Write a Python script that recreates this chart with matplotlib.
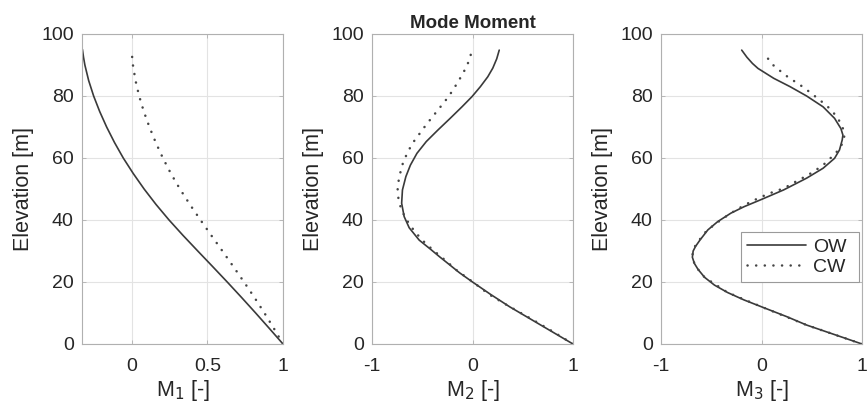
import matplotlib
matplotlib.use("Agg")
import matplotlib.pyplot as plt

plt.rcParams['font.family'] = ['Liberation Sans', 'DejaVu Sans']

# ---- data ----
# Panel 1: M1
ow1_z = [0, 5, 10, 15, 20, 25, 30, 35, 40, 45, 50, 55, 60, 65, 70, 75, 80, 85, 90, 92.5, 95]
ow1_m = [1.0, 0.91, 0.819, 0.726, 0.631, 0.534, 0.436, 0.339, 0.246, 0.160, 0.081, 0.009,
         -0.057, -0.115, -0.167, -0.213, -0.253, -0.286, -0.311, -0.320, -0.327]
cw1_z = [0, 5, 10, 15, 20, 25, 30, 35, 40, 45, 50, 55, 60, 65, 70, 75, 80, 85, 90, 93.5]
cw1_m = [1.0, 0.94, 0.877, 0.811, 0.742, 0.671, 0.599, 0.526, 0.454, 0.384, 0.318, 0.258,
         0.205, 0.158, 0.116, 0.079, 0.048, 0.024, 0.007, 0.0]

# Panel 2: M2
ow2_z = [0, 4, 8, 12, 16, 20, 23, 26, 28.2, 30.5, 33.5, 37.5, 41.1, 45.4, 49.7, 54, 57.7,
         61.5, 65.3, 69, 72.8, 76.5, 79.8, 83, 86.2, 89, 92, 94.8]
ow2_m = [1.0, 0.79, 0.58, 0.37, 0.18, 0.0, -0.13, -0.245, -0.33, -0.415, -0.53, -0.63, -0.68,
         -0.705, -0.697, -0.663, -0.618, -0.553, -0.46, -0.345, -0.222, -0.105, -0.005,
         0.078, 0.152, 0.202, 0.241, 0.266]
cw2_z = [0, 4, 8, 12.6, 16, 20.1, 23.6, 26, 28.2, 30.5, 33.2, 35.9, 38.7, 41.5, 43.8, 46.7,
         49.4, 52, 54.7, 57.4, 60.1, 62.8, 65.5, 68, 70.6, 73.3, 76, 78.7, 81.4, 84.3, 87,
         89.7, 92.2, 94.8]
cw2_m = [1.0, 0.8, 0.59, 0.34, 0.165, 0.0, -0.15, -0.235, -0.315, -0.4, -0.49, -0.565, -0.63,
         -0.68, -0.712, -0.736, -0.746, -0.739, -0.722, -0.703, -0.67, -0.63, -0.58, -0.523,
         -0.464, -0.398, -0.331, -0.265, -0.205, -0.149, -0.1, -0.056, -0.026, -0.006]

# Panel 3: M3
ow3_z = [0, 3, 6.1, 8.8, 12, 14.2, 16.6, 19, 21.5, 24.1, 26, 28, 30, 31.5, 33.5, 36.8, 39.5,
         42.2, 44.3, 46.5, 49.7, 53.5, 56.7, 59.9, 62.6, 65.8, 67.4, 69.5, 72.8, 76.5, 80, 83,
         85.7, 88.9, 90.5, 92.5, 94.8]
ow3_m = [1.0, 0.73, 0.45, 0.253, 0.0, -0.173, -0.337, -0.468, -0.566, -0.632, -0.668,
         -0.688, -0.68, -0.656, -0.613, -0.534, -0.435, -0.305, -0.173, -0.01, 0.22, 0.449,
         0.613, 0.727, 0.776, 0.803, 0.81, 0.79, 0.727, 0.613, 0.449, 0.285, 0.122, -0.035,
         -0.09, -0.145, -0.197]
cw3_z = [0, 6.1, 12, 16.6, 21.5, 24.1, 26, 28, 30, 31.5, 33.5, 36, 38.5, 41, 43.5, 46, 48.5,
         50, 51.3, 52.9, 54.2, 55.9, 57.7, 59.9, 62.6, 65.3, 67.7, 70.3, 73.1, 75.8, 78, 80.1,
         82.2, 84.1, 85.7, 87.8, 90, 92.7]
cw3_m = [1.0, 0.45, 0.0, -0.337, -0.566, -0.632, -0.668, -0.688, -0.683, -0.662, -0.62,
         -0.56, -0.47, -0.36, -0.24, -0.1, 0.07, 0.203, 0.285, 0.367, 0.449, 0.531, 0.613,
         0.685, 0.767, 0.816, 0.826, 0.803, 0.754, 0.685, 0.606, 0.525, 0.442, 0.361, 0.279,
         0.197, 0.115, 0.049]

xlims = [(-0.33, 1), (-1, 1), (-1, 1)]
xticks = [[0, 0.5, 1], [-1, 0, 1], [-1, 0, 1]]
xticklabels = [['0', '0.5', '1'], ['-1', '0', '1'], ['-1', '0', '1']]
yticks = [0, 20, 40, 60, 80, 100]
xlabels = ['M$_1$ [-]', 'M$_2$ [-]', 'M$_3$ [-]']
ylabel = 'Elevation [m]'
title = 'Mode Moment'
legend_labels = ['OW', 'CW']

series = [(ow1_z, ow1_m, cw1_z, cw1_m),
          (ow2_z, ow2_m, cw2_z, cw2_m),
          (ow3_z, ow3_m, cw3_z, cw3_m)]

W, H = 868, 412
fig = plt.figure(figsize=(W / 100, H / 100), dpi=100)
lefts = [82, 372, 661]
width = 201
bottom_px, top_px = 344, 34

text_col = '#262626'
axes_col = '#b0b0b0'
grid_col = '#e3e3e3'
line_col = '#3a3a3a'
dot_col = '#454545'

for i, (oz, om, cz, cm) in enumerate(series):
    ax = fig.add_axes([lefts[i] / W, 1 - bottom_px / H, width / W, (bottom_px - top_px) / H])
    l1, = ax.plot(om, oz, color=line_col, lw=1.2, solid_capstyle='round',
                  solid_joinstyle='round')
    l2, = ax.plot(cm, cz, color=dot_col, lw=1.8, linestyle=(0, (0.05, 3.4)),
                  dash_capstyle='round')
    ax.set_xlim(*xlims[i])
    ax.set_ylim(0, 100)
    ax.set_xticks(xticks[i])
    ax.set_xticklabels(xticklabels[i])
    ax.set_yticks(yticks)
    ax.grid(True, color=grid_col, lw=0.8)
    ax.set_axisbelow(True)
    for s in ax.spines.values():
        s.set_color(axes_col)
        s.set_linewidth(0.8)
    ax.tick_params(axis='both', direction='in', length=3, width=0.6, color=axes_col,
                   labelsize=14, labelcolor=text_col, top=True, right=True)
    ax.tick_params(axis='x', pad=10)
    ax.tick_params(axis='y', pad=6)
    ax.set_xlabel(xlabels[i], fontsize=15.5, color=text_col, labelpad=2)
    ax.set_ylabel(ylabel, fontsize=15.5, color=text_col, labelpad=5)
    if i == 1:
        ax.set_title(title, fontsize=13.5, fontweight='bold', color=text_col, pad=4)
    if i == 2:
        leg = ax.legend([l1, l2], legend_labels, loc='lower left',
                        bbox_to_anchor=(0.40, 0.20, 0.585, 0.18), mode='expand',
                        fontsize=14, handlelength=3.0, handletextpad=0.4,
                        borderpad=0.3, labelspacing=0.15, fancybox=False,
                        framealpha=1, edgecolor='#9a9a9a', borderaxespad=0)
        leg.get_frame().set_linewidth(0.8)
        for t in leg.get_texts():
            t.set_color(text_col)

fig.savefig('out.png', dpi=100)
